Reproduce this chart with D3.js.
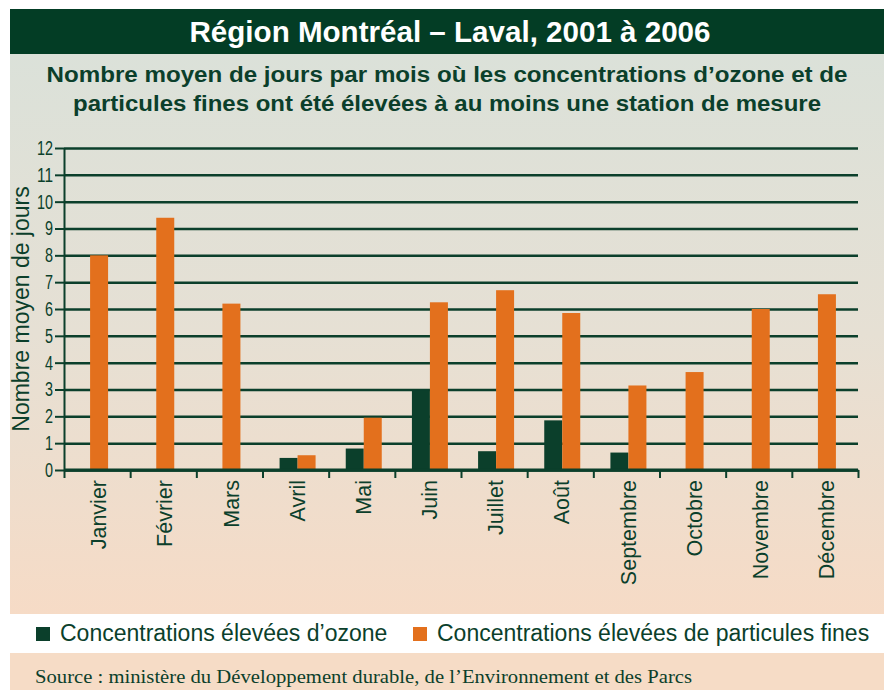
<!DOCTYPE html>
<html lang="fr">
<head>
<meta charset="utf-8">
<title>Région Montréal – Laval, 2001 à 2006</title>
<script src="https://d3js.org/d3.v7.min.js"></script>
<style>
  body { margin:0; background:#ffffff; }
  .axis path, .axis line { stroke:#0b3f2b; stroke-width:2; fill:none; }
  .grid line { stroke:#0b3f2b; stroke-width:2.5; }
  .grid path { display:none; }
  .axis text { font-family:"Liberation Sans Narrow", Arial, sans-serif; font-size:20px; fill:#0b3f2b; }
</style>
</head>
<body>
<div id="chart"></div>
<script>
// données
var months = ["Janvier","Février","Mars","Avril","Mai","Juin","Juillet","Août","Septembre","Octobre","Novembre","Décembre"]
var ozone = [0, 0, 0, 0.45, 0.8, 2.95, 0.7, 1.85, 0.65, 0, 0, 0]
var particules = [8.0, 9.4, 6.2, 0.55, 1.95, 6.25, 6.7, 5.85, 3.15, 3.65, 6.0, 6.55]
var yTicks = [0,1,2,3,4,5,6,7,8,9,10,11,12]
var seriesNames = ["Concentrations élevées d’ozone", "Concentrations élevées de particules fines"]

var w = 884, h = 690
var green = "#0b3f2b", orange = "#e3701d"
var plotL = 64, plotR = 858, plotT = 148, plotB = 470
var barW = 18

var svg = d3.select("#chart").append("svg")
    .attr("width", w)
    .attr("height", h)

var grad = svg.append("defs").append("linearGradient")
    .attr("id","bg").attr("x1",0).attr("y1",0).attr("x2",0).attr("y2",1)
grad.append("stop").attr("offset","0%").attr("stop-color","#dbe1d9")
grad.append("stop").attr("offset","50%").attr("stop-color","#e6e0d4")
grad.append("stop").attr("offset","100%").attr("stop-color","#f6dbc6")

// fonds
svg.append("rect").attr("x",10).attr("y",54).attr("width",w-10).attr("height",560).attr("fill","url(#bg)")
svg.append("rect").attr("x",10).attr("y",9).attr("width",w-10).attr("height",45).attr("fill","#033d25")
svg.append("rect").attr("x",10).attr("y",653).attr("width",w-10).attr("height",37).attr("fill","#f6dcc6")

// titres
svg.append("text").attr("x",450).attr("y",42)
    .attr("text-anchor","middle").attr("fill","#ffffff")
    .style("font-family","Arial, sans-serif").style("font-weight","bold").style("font-size","30px")
    .attr("textLength",521).attr("lengthAdjust","spacingAndGlyphs")
    .text("Région Montréal – Laval, 2001 à 2006")

var sub = [
  {t:"Nombre moyen de jours par mois où les concentrations d’ozone et de", y:82, len:801},
  {t:"particules fines ont été élevées à au moins une station de mesure", y:111, len:748}
]
svg.selectAll(".sub").data(sub).enter().append("text")
    .attr("class","sub")
    .attr("x",447).attr("y",function(d){ return d.y })
    .attr("text-anchor","middle").attr("fill",green)
    .style("font-family","Arial, sans-serif").style("font-weight","bold").style("font-size","22px")
    .attr("textLength",function(d){ return d.len }).attr("lengthAdjust","spacingAndGlyphs")
    .text(function(d){ return d.t })

// échelles
var xScale = d3.scaleBand().domain(months).range([plotL, plotR]).paddingInner(0).paddingOuter(0)
var xEdges = d3.scaleLinear().domain([0, 12]).range([plotL, plotR])
var yScale = d3.scaleLinear().domain([0, 12]).range([plotB, plotT])

// grille
svg.append("g")
    .attr("class","grid")
    .attr("transform","translate(" + plotL + ",0)")
    .call(d3.axisLeft(yScale).tickValues(yTicks).tickSize(-(plotR-plotL)).tickFormat(""))

// axe y
var yAxis = svg.append("g")
    .attr("class","axis")
    .attr("transform","translate(" + plotL + ",0)")
    .call(d3.axisLeft(yScale).tickValues(yTicks).tickSize(9).tickPadding(2).tickSizeOuter(0))
yAxis.selectAll("text")
    .attr("textLength", function(d){ return d >= 10 ? 16 : 8 })
    .attr("lengthAdjust","spacingAndGlyphs")

// barres
var center = function(i){ return xScale(months[i]) + xScale.bandwidth()/2 + 2 }
var ozoneBars = ozone.map(function(v,i){ return {v:v, i:i} }).filter(function(d){ return d.v > 0 })

svg.selectAll(".ozone").data(ozoneBars).enter().append("rect")
    .attr("class","ozone")
    .attr("x", function(d){ return center(d.i) - barW })
    .attr("y", function(d){ return yScale(d.v) })
    .attr("width", barW)
    .attr("height", function(d){ return yScale(0) - yScale(d.v) })
    .attr("fill", green)

svg.selectAll(".part").data(particules).enter().append("rect")
    .attr("class","part")
    .attr("x", function(d,i){ return ozone[i] > 0 ? center(i) : center(i) - barW/2 })
    .attr("y", function(d){ return yScale(d) })
    .attr("width", barW)
    .attr("height", function(d){ return yScale(0) - yScale(d) })
    .attr("fill", orange)

// axe x (traits entre les mois)
svg.append("g")
    .attr("class","axis")
    .attr("transform","translate(0," + plotB + ")")
    .call(d3.axisBottom(xEdges).ticks(12).tickSize(8).tickSizeOuter(0).tickFormat(""))
svg.append("line")
    .attr("x1",plotL).attr("x2",plotR).attr("y1",plotB).attr("y2",plotB)
    .attr("stroke",green).attr("stroke-width",3)

svg.selectAll(".month").data(months).enter().append("text")
    .attr("class","month")
    .attr("transform", function(d){ return "translate(" + (xScale(d) + xScale.bandwidth()/2 + 1) + "," + (plotB + 10) + ") rotate(-90)" })
    .attr("text-anchor","end")
    .attr("dy","0.38em")
    .attr("fill",green)
    .style("font-family","Arial, sans-serif").style("font-size","21.5px")
    .text(function(d){ return d })

// titre axe y
svg.append("text")
    .attr("transform","translate(29,309) rotate(-90)")
    .attr("text-anchor","middle")
    .attr("fill",green)
    .style("font-family","Arial, sans-serif").style("font-size","23px")
    .text("Nombre moyen de jours")

// légende
var legX = [36, 413]
var leg = svg.selectAll(".leg").data(seriesNames).enter().append("g")
    .attr("class","leg")
    .attr("transform", function(d,i){ return "translate(" + legX[i] + ",627)" })
leg.append("rect").attr("width",14).attr("height",14)
    .attr("fill", function(d,i){ return i == 0 ? green : orange })
leg.append("text").attr("x",24).attr("y",14)
    .attr("fill",green)
    .style("font-family","Arial, sans-serif").style("font-size","23px")
    .text(function(d){ return d })

// source
svg.append("text").attr("x",35).attr("y",683)
    .attr("fill",green)
    .style("font-family","'Liberation Serif', serif").style("font-size","18px")
    .attr("textLength",657).attr("lengthAdjust","spacingAndGlyphs")
    .text("Source : ministère du Développement durable, de l’Environnement et des Parcs")
</script>
</body>
</html>
